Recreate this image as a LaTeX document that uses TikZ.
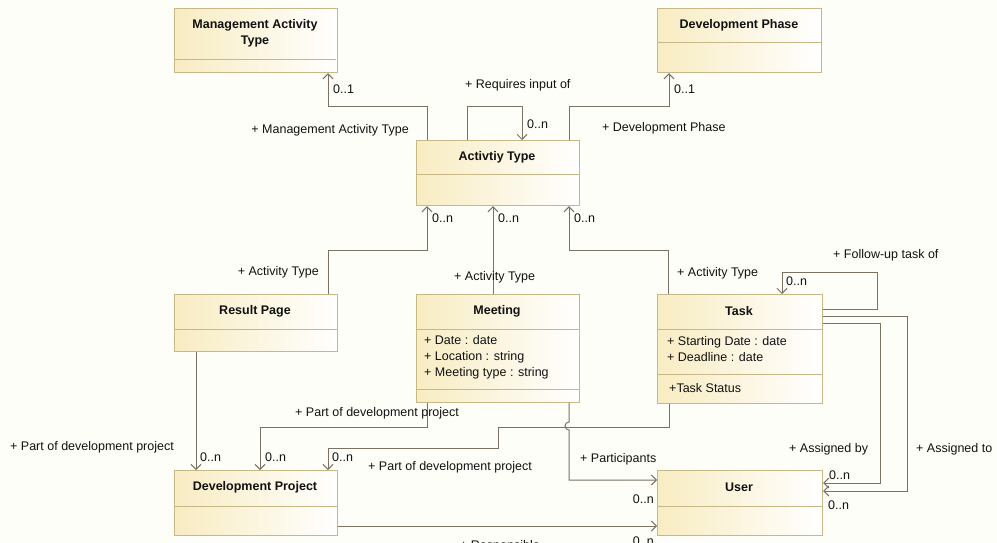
\documentclass[tikz,border=0pt]{standalone}
\usepackage{fontspec}
\setmainfont{Liberation Sans}
\usetikzlibrary{arrows.meta}
\definecolor{clsfill}{HTML}{F8ECC2}
\definecolor{clsline}{HTML}{C8B888}
\definecolor{assline}{HTML}{7A7262}
\definecolor{paper}{HTML}{FEFEF9}
\definecolor{ink}{HTML}{111111}
\newcommand{\umlfont}{\fontsize{12.5}{16}\selectfont}
\tikzset{
  cls/.style={draw=clsline, line width=1.2pt, left color=clsfill, right color=white,
    minimum width=163pt, anchor=north west, inner sep=0pt},
  sep/.style={draw=clsline, line width=1pt},
  ttl/.style={font=\umlfont\bfseries, align=center, text=ink, inner sep=0pt},
  attr/.style={font=\umlfont, anchor=west, align=left, text=ink, inner sep=0pt},
  lbl/.style={font=\umlfont, anchor=west, text=ink, inner sep=0pt},
  assoc/.style={draw=assline, line width=1pt, ->},
}
\begin{document}
\begin{tikzpicture}[x=1pt, y=-1pt, >={Straight Barb[length=5pt,width=10pt]}]
\useasboundingbox[fill=paper] (0,0) rectangle (997,543);
% classes
\node[cls, minimum height=64pt] (mat) at (174,8) {};
\draw[sep] (174,60) -- (336,60);
\node[ttl] (matt) at (255,33) {Management Activity\\Type};
\node[cls, minimum height=64pt, minimum width=164pt] (dph) at (657,8) {};
\draw[sep] (657,43) -- (821,43);
\node[ttl] (dpht) at (739,25) {Development Phase};
\node[cls, minimum height=65pt] (act) at (416,140) {};
\draw[sep] (416,174) -- (579,174);
\node[ttl] (actt) at (497,157) {Activtiy Type};
\node[cls, minimum height=57pt] (res) at (174,294) {};
\draw[sep] (174,329) -- (337,329);
\node[ttl] (rest) at (255,311) {Result Page};
\node[cls, minimum height=108pt] (mtg) at (416,294) {};
\draw[sep] (416,329) -- (579,329);
\draw[sep] (416,389) -- (579,389);
\node[ttl] (mtgt) at (497,311) {Meeting};
\node[attr] (mtga) at (424,357) {+ Date : date\\+ Location : string\\+ Meeting type : string};
\node[cls, minimum height=109pt, minimum width=165pt] (tsk) at (657,294) {};
\draw[sep] (657,329) -- (822,329);
\draw[sep] (657,374) -- (822,374);
\node[ttl] (tskt) at (739,311) {Task};
\node[attr] (tska) at (667,349) {+ Starting Date : date\\+ Deadline : date};
\node[attr] (tsko) at (669,388) {+Task Status};
\node[cls, minimum height=65pt] (dpr) at (174,470) {};
\draw[sep] (174,506) -- (337,506);
\node[ttl] (dprt) at (255,487) {Development Project};
\node[cls, minimum height=65pt, minimum width=165pt] (usr) at (657,470) {};
\draw[sep] (657,506) -- (822,506);
\node[ttl] (usrt) at (739,487) {User};

% associations to activity type
\draw[assoc] ([xshift=11pt]act.north west) -- ++(0,-33) -| ([xshift=154pt]mat.south west);
\node[lbl] (l1) at (333,89) {0..1};
\node[lbl, anchor=east] (r1) at (409,130) {+ Management Activity Type};
\draw[assoc] ([xshift=51pt]act.north west) -- ++(0,-33) -| ([xshift=106pt]act.north west);
\node[lbl] (r2) at (465,85) {+ Requires input of};
\node[lbl] (l2) at (527,124) {0..n};
\draw[assoc] ([xshift=153pt]act.north west) -- ++(0,-33) -| ([xshift=12pt]dph.south west);
\node[lbl] (l3) at (674,89) {0..1};
\node[lbl] (r3) at (602,128) {+ Development Phase};
\draw[assoc] ([xshift=154pt]res.north west) -- ++(0,-44) -| ([xshift=11pt]act.south west);
\node[lbl] (l4) at (432,218) {0..n};
\node[lbl, anchor=east] (r4) at (319,272) {+ Activity Type};
\draw[assoc] ([xshift=77pt]mtg.north west) -- ([xshift=77pt]act.south west);
\node[lbl] (l5) at (498,218) {0..n};
\node[lbl] (r5) at (454,277) {+ Activity Type};
\draw[assoc] ([xshift=11pt]tsk.north west) -- ++(0,-44) -| ([xshift=153pt]act.south west);
\node[lbl] (l6) at (574,218) {0..n};
\node[lbl] (r6) at (677,273) {+ Activity Type};

% task links
\draw[assoc] ([yshift=-15pt]tsk.north east) -| (877,272) -| ([xshift=125pt]tsk.north west);
\node[lbl] (l7) at (786,281) {0..n};
\node[lbl] (r7) at (833,255) {+ Follow-up task of};
\draw[assoc] ([yshift=-29pt]tsk.north east) -| (880,483) -- ([yshift=-13pt]usr.north east);
\node[lbl] (l8) at (829,475) {0..n};
\node[lbl] (r8) at (789,449) {+ Assigned by};
\draw[assoc] ([yshift=-22pt]tsk.north east) -| (907,491) -- ([yshift=-21pt]usr.north east);
\node[lbl] (l9) at (828,505) {0..n};
\node[lbl] (r9) at (916,449) {+ Assigned to};

% development project
\draw[assoc] ([xshift=22pt]res.south west) -- ([xshift=22pt]dpr.north west);
\node[lbl] (l10) at (200,457) {0..n};
\node[lbl] (r10) at (10,447) {+ Part of development project};
\draw[assoc] ([xshift=11pt]mtg.south west) -- ++(0,24) -| ([xshift=86pt]dpr.north west);
\node[lbl] (l11) at (265,457) {0..n};
\node[lbl] (r11) at (295,413) {+ Part of development project};
\draw[assoc] ([xshift=12pt]tsk.south west) -- ++(0,23) -| (498,448) -| ([xshift=154pt]dpr.north west);
\node[lbl] (l12) at (332,457) {0..n};
\node[lbl] (r12) at (368,467) {+ Part of development project};

% user
\draw[assoc] ([xshift=153pt]mtg.south west) -- (569,422) arc[start angle=90, end angle=270, radius=4pt]
  -- (569,480) -- ([yshift=-10pt]usr.north west);
\node[lbl] (r13) at (580,459) {+ Participants};
\node[lbl, anchor=east] (l13) at (654,499) {0..n};
\draw[assoc] ([yshift=-56pt]dpr.north east) -- ([yshift=-56pt]usr.north west);
\node[lbl, anchor=east] (l14) at (654,541) {0..n};
\node[lbl] (r14) at (460,546) {+ Responsible};
\end{tikzpicture}
\end{document}
